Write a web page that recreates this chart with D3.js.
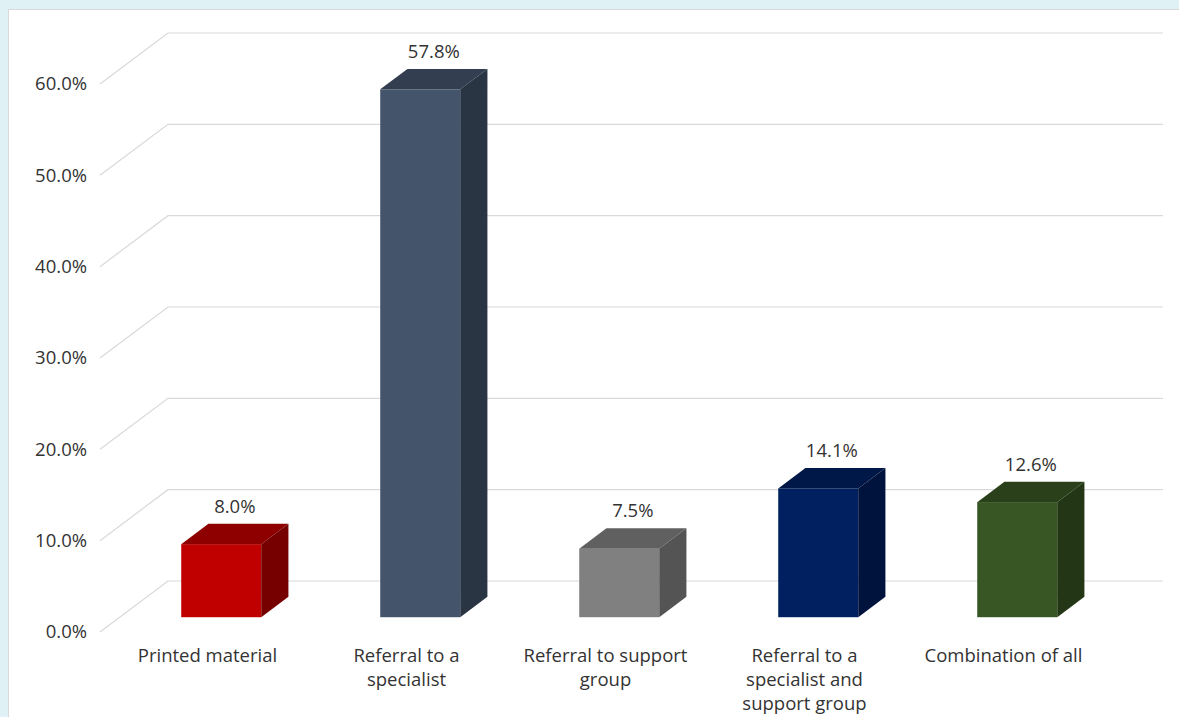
<!DOCTYPE html>
<html>
<head>
<meta charset="utf-8">
<script src="https://cdn.jsdelivr.net/npm/d3@7"></script>
<style>
  html, body { margin: 0; padding: 0; background: #e0f1f6; }
  svg { display: block; }
</style>
</head>
<body>
<svg id="chart" width="1179" height="717"></svg>
<script>
const categories = [
  ["Printed material"],
  ["Referral to a", "specialist"],
  ["Referral to support", "group"],
  ["Referral to a", "specialist and", "support group"],
  ["Combination of all"]
];
const categoryKeys = ["Printed material", "Referral to a specialist", "Referral to support group", "Referral to a specialist and support group", "Combination of all"];
const values = [8.0, 57.8, 7.5, 14.1, 12.6];
const valueLabels = ["8.0%", "57.8%", "7.5%", "14.1%", "12.6%"];
const yTicks = [0, 10, 20, 30, 40, 50, 60];
const yTickLabels = ["0.0%", "10.0%", "20.0%", "30.0%", "40.0%", "50.0%", "60.0%"];
const frontColors = ["#c00000", "#44546a", "#808080", "#002060", "#375623"];
const topColors   = ["#8e0000", "#333f50", "#606060", "#001848", "#29401a"];
const sideColors  = ["#760000", "#2a3544", "#545454", "#00133d", "#233716"];

const svg = d3.select("#chart");
const FONT = "'Open Sans', 'Noto Sans', sans-serif";
const TEXT = "#333333";

// white panel
svg.append("rect").attr("x", 8.5).attr("y", 9.5).attr("width", 1180).attr("height", 720)
  .attr("fill", "#ffffff").attr("stroke", "#d9d9d9").attr("stroke-width", 1);

const DX = 68, DY = 51;          // wall depth offset
const F0 = 0.29, BF = 0.4;       // bar front position & depth fraction
const y = d3.scaleLinear().domain([0, 60]).range([632, 84]);
const x = d3.scaleBand().domain(categoryKeys).range([102, 1097]).paddingInner(0.598).paddingOuter(0.299);

// gridlines (front diagonal + back wall)
const g = svg.append("g");
yTicks.forEach(t => {
  const yf = y(t), yb = y(t) - DY;
  g.append("path")
    .attr("d", `M100,${yf}L${100 + DX},${yb}L1163,${yb}`)
    .attr("fill", "none").attr("stroke", "#d9d9d9").attr("stroke-width", 1.2);
});

// y tick labels
svg.append("g").selectAll("text").data(yTicks).join("text")
  .attr("x", 87).attr("y", d => y(d)).attr("dy", "0.35em")
  .attr("text-anchor", "end").attr("font-family", FONT).attr("font-size", 18.5)
  .attr("fill", TEXT).text((d, i) => yTickLabels[i]);

// bars
const w = x.bandwidth();
const ddx = BF * DX, ddy = BF * DY;
const bars = svg.append("g");
categoryKeys.forEach((c, i) => {
  const x0 = x(c) + F0 * DX;
  const yb = y(0) - F0 * DY;
  const yt = y(values[i]) - F0 * DY;
  bars.append("rect").attr("x", x0).attr("y", yt).attr("width", w).attr("height", yb - yt)
    .attr("fill", frontColors[i]);
  bars.append("path")
    .attr("d", `M${x0},${yt}L${x0 + w},${yt}L${x0 + w + ddx},${yt - ddy}L${x0 + ddx},${yt - ddy}Z`)
    .attr("fill", topColors[i]);
  bars.append("path")
    .attr("d", `M${x0 + w},${yt}L${x0 + w + ddx},${yt - ddy}L${x0 + w + ddx},${yb - ddy}L${x0 + w},${yb}Z`)
    .attr("fill", sideColors[i]);
  svg.append("text")
    .attr("x", x0 + w / 2 + ddx / 2).attr("y", yt - ddy - 11)
    .attr("text-anchor", "middle").attr("font-family", FONT).attr("font-size", 18.5)
    .attr("fill", TEXT).text(valueLabels[i]);
});

// category labels
const cl = svg.append("g");
categoryKeys.forEach((c, i) => {
  const cx = x(c) + w / 2 + 6;
  const t = cl.append("text").attr("text-anchor", "middle").attr("font-family", FONT)
    .attr("font-size", 18.5).attr("fill", TEXT);
  categories[i].forEach((line, j) => {
    t.append("tspan").attr("x", cx).attr("y", 662 + j * 24).text(line);
  });
});
</script>
</body>
</html>
